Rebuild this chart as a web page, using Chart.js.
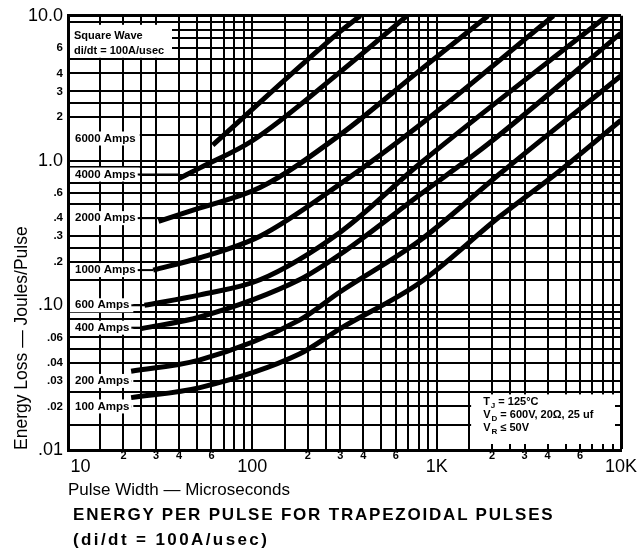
<!DOCTYPE html>
<html>
<head>
<meta charset="utf-8">
<title>Energy per pulse for trapezoidal pulses</title>
<script src="https://cdn.jsdelivr.net/npm/chart.js@4.4.1/dist/chart.umd.min.js"></script>
<style>
  html, body { margin: 0; padding: 0; background: #fff; }
  #wrap { position: relative; width: 641px; height: 549px; }
  #chart { position: absolute; left: 0; top: 0; }
  .caption {
    position: absolute; left: 73px; margin: 0;
    font: bold 17px "Liberation Sans", Arial, sans-serif;
    line-height: 20px; letter-spacing: 1.8px; color: #000; white-space: nowrap;
  }
</style>
</head>
<body>
<div id="wrap">
  <canvas id="chart" width="641" height="549"></canvas>
  <div class="caption" style="top:505px">ENERGY PER PULSE FOR TRAPEZOIDAL PULSES</div>
  <div class="caption" style="top:530px;letter-spacing:2.4px">(di/dt = 100A/usec)</div>
</div>
<script>
const FONT = '"Liberation Sans", Arial, sans-serif';

// curves: pulse width (usec) -> energy loss (joules/pulse)
const PULSE_100 = [22, 52, 180, 300, 810, 2200, 4500, 10000];
const LOSS_100  = [0.023, 0.027, 0.046, 0.069, 0.143, 0.41, 0.82, 1.9];
const PULSE_200 = [22, 52, 180, 300, 810, 2200, 10000];
const LOSS_200  = [0.035, 0.042, 0.079, 0.124, 0.28, 0.81, 3.85];
const PULSE_400 = [25, 52, 180, 300, 810, 1900, 10000];
const LOSS_400  = [0.069, 0.083, 0.15, 0.225, 0.58, 1.30, 7.6];
const PULSE_600 = [26, 52, 110, 300, 810, 8400];
const LOSS_600  = [0.10, 0.118, 0.15, 0.32, 0.95, 10];
const PULSE_1000 = [29, 52, 110, 300, 810, 4300];
const LOSS_1000  = [0.175, 0.213, 0.30, 0.69, 1.76, 10];
const PULSE_2000 = [31, 52, 110, 300, 810, 1900];
const LOSS_2000  = [0.38, 0.47, 0.65, 1.51, 4.2, 10];
const PULSE_4000 = [40, 52, 100, 300, 690];
const LOSS_4000  = [0.75, 0.89, 1.37, 4.1, 10];
const PULSE_6000 = [61, 300, 385];
const LOSS_6000  = [1.28, 7.8, 10];

const CURRENTS = ['100 Amps', '200 Amps', '400 Amps', '600 Amps', '1000 Amps', '2000 Amps', '4000 Amps', '6000 Amps'];
const PULSES = [PULSE_100, PULSE_200, PULSE_400, PULSE_600, PULSE_1000, PULSE_2000, PULSE_4000, PULSE_6000];
const LOSSES = [LOSS_100, LOSS_200, LOSS_400, LOSS_600, LOSS_1000, LOSS_2000, LOSS_4000, LOSS_6000];

// log paper: a line at each of these steps in every decade
const GRID_STEPS = [1, 1.5, 2, 2.5, 3, 4, 5, 6, 7, 8, 9];
const X_DECADES = [10, 100, 1000];
const Y_DECADES = [0.01, 0.1, 1];

const X_LABEL_VALUES = [10, 20, 30, 40, 60, 100, 200, 300, 400, 600, 1000, 2000, 3000, 4000, 6000, 10000];
const X_LABEL_TEXT = ['10', '2', '3', '4', '6', '100', '2', '3', '4', '6', '1K', '2', '3', '4', '6', '10K'];
const Y_LABEL_VALUES = [0.01, 0.02, 0.03, 0.04, 0.06, 0.1, 0.2, 0.3, 0.4, 0.6, 1, 2, 3, 4, 6, 10];
const Y_LABEL_TEXT = ['.01', '.02', '.03', '.04', '.06', '.10', '.2', '.3', '.4', '.6', '1.0', '2', '3', '4', '6', '10.0'];

// energy level each "xxx Amps" tag sits on
const TAG_LEVEL = [0.02, 0.03, 0.07, 0.1, 0.175, 0.4, 0.8, 1.42];

function gridValues(decades, top) {
  const out = [];
  decades.forEach(d => GRID_STEPS.forEach(s => out.push(d * s)));
  out.push(top);
  return out;
}

function labelFor(values, texts, v) {
  const i = values.findIndex(lv => Math.abs(v / lv - 1) < 1e-6);
  return i < 0 ? '' : texts[i];
}

const isDecade = v => Math.abs(Math.log10(v) - Math.round(Math.log10(v))) < 1e-6;
const tickValue = ctx => (ctx.tick ? ctx.tick.value : 1);

function drawSub(ctx, main, sub, rest, px, py) {
  ctx.font = `bold 11px ${FONT}`;
  ctx.fillText(main, px, py);
  let cur = px + ctx.measureText(main).width + 1;
  ctx.font = `bold 8px ${FONT}`;
  ctx.fillText(sub, cur, py + 3);
  cur += ctx.measureText(sub).width;
  ctx.font = `bold 11px ${FONT}`;
  ctx.fillText(rest, cur, py);
}

const notesPlugin = {
  id: 'notes',
  beforeDatasetsDraw(chart) {
    const { ctx, chartArea: area, scales: { x, y } } = chart;
    ctx.save();
    ctx.textBaseline = 'middle';
    ctx.lineWidth = 2;
    ctx.strokeStyle = '#000';

    // current tags, blanked out of the grid, with a leader to where the curve begins
    ctx.font = `bold 11.5px ${FONT}`;
    CURRENTS.forEach((name, i) => {
      const py = y.getPixelForValue(TAG_LEVEL[i]);
      const tx = area.left + 7;
      const w = ctx.measureText(name).width;
      ctx.fillStyle = '#fff';
      ctx.fillRect(area.left + 2, py - 7, w + 9, 14);
      const start = x.getPixelForValue(PULSES[i][0]);
      if (start - (tx + w) < 60) {
        ctx.beginPath();
        ctx.moveTo(tx + w + 2, py);
        ctx.lineTo(start, py);
        ctx.stroke();
      }
      ctx.fillStyle = '#000';
      ctx.fillText(name, tx, py);
    });

    // square wave note, top left
    ctx.fillStyle = '#fff';
    ctx.fillRect(area.left + 2, area.top + 9, 102, 33);
    ctx.fillStyle = '#000';
    ctx.font = `bold 11px ${FONT}`;
    ctx.fillText('Square Wave', area.left + 6, area.top + 20);
    ctx.fillText('di/dt = 100A/usec', area.left + 6, area.top + 35);

    // test conditions, bottom right
    const cx = x.getPixelForValue(1500) + 2;
    const cy = y.getPixelForValue(0.025) + 2;
    ctx.fillStyle = '#fff';
    ctx.fillRect(cx, cy, area.right - 6 - cx, area.bottom - 6 - cy);
    ctx.fillStyle = '#000';
    drawSub(ctx, 'T', 'J', ' = 125°C', cx + 12, cy + 8);
    drawSub(ctx, 'V', 'D', ' = 600V, 20Ω, 25 uf', cx + 12, cy + 21);
    drawSub(ctx, 'V', 'R', ' ≤ 50V', cx + 12, cy + 34);
    ctx.restore();
  }
};

Chart.defaults.color = '#000';
Chart.defaults.font.family = FONT;

new Chart(document.getElementById('chart'), {
  type: 'line',
  data: {
    datasets: CURRENTS.map((name, i) => ({
      label: name,
      data: PULSES[i].map((p, k) => ({ x: p, y: LOSSES[i][k] })),
      borderColor: '#000',
      borderWidth: 5,
      pointRadius: 0,
      fill: false,
      cubicInterpolationMode: 'monotone',
      borderCapStyle: 'butt',
    })),
  },
  options: {
    responsive: false,
    animation: false,
    events: [],
    layout: { padding: { top: 15, right: 20, left: 0, bottom: 0 } },
    plugins: { legend: { display: false }, tooltip: { enabled: false } },
    scales: {
      x: {
        type: 'logarithmic',
        min: 10,
        max: 10000,
        afterBuildTicks: s => { s.ticks = gridValues(X_DECADES, 10000).map(value => ({ value })); },
        afterFit: s => { s.height = 99; },
        grid: { color: '#000', drawTicks: false, lineWidth: ctx => (tickValue(ctx) >= 9999 ? 3 : 2) },
        border: { color: '#000', width: 3 },
        ticks: {
          autoSkip: false,
          maxRotation: 0,
          minRotation: 0,
          padding: 0,
          color: '#000',
          callback: v => (Math.abs(v - 10) < 1e-9 ? '     10' : labelFor(X_LABEL_VALUES, X_LABEL_TEXT, v)),
          font: ctx => (isDecade(tickValue(ctx))
            ? { family: FONT, size: 18, lineHeight: 1.85 }
            : { family: FONT, size: 11, weight: 'bold', lineHeight: 1 }),
        },
        title: {
          display: true,
          text: 'Pulse Width — Microseconds',
          align: 'start',
          color: '#000',
          font: { family: FONT, size: 17 },
          padding: { top: 0, bottom: 48 },
        },
      },
      y: {
        type: 'logarithmic',
        min: 0.01,
        max: 10,
        afterBuildTicks: s => { s.ticks = gridValues(Y_DECADES, 10).map(value => ({ value })); },
        afterFit: s => { s.width = 68; },
        grid: { color: '#000', drawTicks: false, lineWidth: ctx => (tickValue(ctx) >= 9.99 ? 3 : 2) },
        border: { color: '#000', width: 3 },
        ticks: {
          autoSkip: false,
          padding: 5,
          color: '#000',
          callback: v => labelFor(Y_LABEL_VALUES, Y_LABEL_TEXT, v),
          font: ctx => (isDecade(tickValue(ctx))
            ? { family: FONT, size: 18 }
            : { family: FONT, size: 11.5, weight: 'bold' }),
        },
        title: {
          display: true,
          text: 'Energy Loss — Joules/Pulse',
          align: 'start',
          color: '#000',
          font: { family: FONT, size: 17.5 },
          padding: { top: 12, bottom: 0 },
        },
      },
    },
  },
  plugins: [notesPlugin],
});
</script>
</body>
</html>
